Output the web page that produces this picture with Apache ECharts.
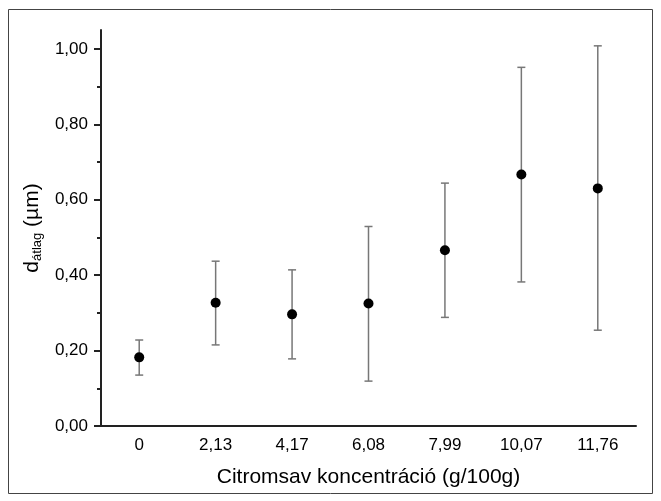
<!DOCTYPE html>
<html>
<head>
<meta charset="utf-8">
<script src="https://cdn.jsdelivr.net/npm/echarts@6/dist/echarts.min.js"></script>
<style>
  html, body { margin: 0; padding: 0; background: #fff; }
  #chart { width: 661px; height: 501px; }
</style>
</head>
<body>
<div id="chart"></div>
<script>
// citromsav koncentráció (g/100g)
var categories = ["0", "2,13", "4,17", "6,08", "7,99", "10,07", "11,76"];
// átlagos szemcseméret (µm)
var means = [0.182, 0.327, 0.296, 0.325, 0.466, 0.667, 0.630];
var lowers = [0.135, 0.215, 0.178, 0.119, 0.288, 0.382, 0.254];
var uppers = [0.228, 0.437, 0.414, 0.529, 0.644, 0.951, 1.008];
// tengely jelölések
var yMajorTicks = [0, 0.2, 0.4, 0.6, 0.8, 1.0];
var yMinorTicks = [0.1, 0.3, 0.5, 0.7, 0.9];

var font = "Liberation Sans, Arial, sans-serif";
var axisColor = "#222";

var errorData = [];
for (var i = 0; i < categories.length; i++) {
  errorData.push([i, lowers[i], uppers[i]]);
}

var chart = echarts.init(document.getElementById("chart"));

var option = {
  animation: false,
  backgroundColor: "#fff",
  graphic: [
    {
      type: "rect",
      shape: { x: 8.5, y: 9.5, width: 644, height: 484 },
      style: { fill: "none", stroke: "#444", lineWidth: 1 },
      silent: true
    }
  ],
  grid: { left: 101, right: 25, top: 30, bottom: 75 },
  xAxis: [
    {
      type: "category",
      data: categories,
      position: "bottom",
      name: "Citromsav koncentráció (g/100g)",
      nameLocation: "middle",
      nameGap: 41,
      nameTextStyle: { fontFamily: font, fontSize: 21, color: "#000" },
      axisLine: { onZero: false, lineStyle: { color: axisColor, width: 2 } },
      axisTick: { alignWithLabel: true, length: 7, lineStyle: { color: axisColor, width: 2 } },
      axisLabel: { margin: 11, fontFamily: font, fontSize: 17, color: "#000" },
      splitLine: { show: false }
    },
    {
      // csak a kategóriahatárok kis jelölései
      type: "category",
      data: categories,
      position: "bottom",
      axisLine: { show: false, onZero: false },
      axisTick: { alignWithLabel: false, length: 4, lineStyle: { color: axisColor, width: 2 } },
      axisLabel: { show: false },
      splitLine: { show: false }
    }
  ],
  yAxis: [
    {
      type: "value",
      min: 0,
      max: 1.05,
      position: "left",
      name: "{d|d}{sub|átlag}{d| (µm)}",
      nameLocation: "middle",
      nameGap: 50,
      nameTextStyle: {
        color: "#000",
        rich: {
          d: { fontFamily: font, fontSize: 21, color: "#000" },
          sub: { fontFamily: font, fontSize: 13, color: "#000", padding: [10, 0, 0, 0] }
        }
      },
      axisLine: { show: true, onZero: false, lineStyle: { color: axisColor, width: 2 } },
      axisTick: { show: true, length: 7, customValues: yMajorTicks, lineStyle: { color: axisColor, width: 2 } },
      axisLabel: {
        margin: 13,
        fontFamily: font,
        fontSize: 17,
        color: "#000",
        customValues: yMajorTicks,
        formatter: function (v) {
          return v.toFixed(2).replace(".", ",");
        }
      },
      splitLine: { show: false }
    },
    {
      // kis jelölések
      type: "value",
      min: 0,
      max: 1.05,
      position: "left",
      axisLine: { show: false, onZero: false },
      axisTick: { show: true, length: 4, customValues: yMinorTicks, lineStyle: { color: axisColor, width: 2 } },
      axisLabel: { show: false },
      splitLine: { show: false }
    }
  ],
  series: [
    {
      type: "custom",
      name: "hiba",
      xAxisIndex: 0,
      yAxisIndex: 0,
      data: errorData,
      z: 2,
      renderItem: function (params, api) {
        var x = api.value(0);
        var lo = api.coord([x, api.value(1)]);
        var hi = api.coord([x, api.value(2)]);
        var half = 4;
        var style = { stroke: "#777", lineWidth: 1.5, fill: null };
        return {
          type: "group",
          children: [
            { type: "line", shape: { x1: hi[0], y1: hi[1], x2: lo[0], y2: lo[1] }, style: style },
            { type: "line", shape: { x1: hi[0] - half, y1: hi[1], x2: hi[0] + half, y2: hi[1] }, style: style },
            { type: "line", shape: { x1: lo[0] - half, y1: lo[1], x2: lo[0] + half, y2: lo[1] }, style: style }
          ]
        };
      }
    },
    {
      type: "scatter",
      name: "átlag",
      xAxisIndex: 0,
      yAxisIndex: 0,
      data: means,
      symbol: "circle",
      symbolSize: 10,
      itemStyle: { color: "#000", opacity: 1 },
      z: 3
    }
  ]
};

chart.setOption(option);
</script>
</body>
</html>
